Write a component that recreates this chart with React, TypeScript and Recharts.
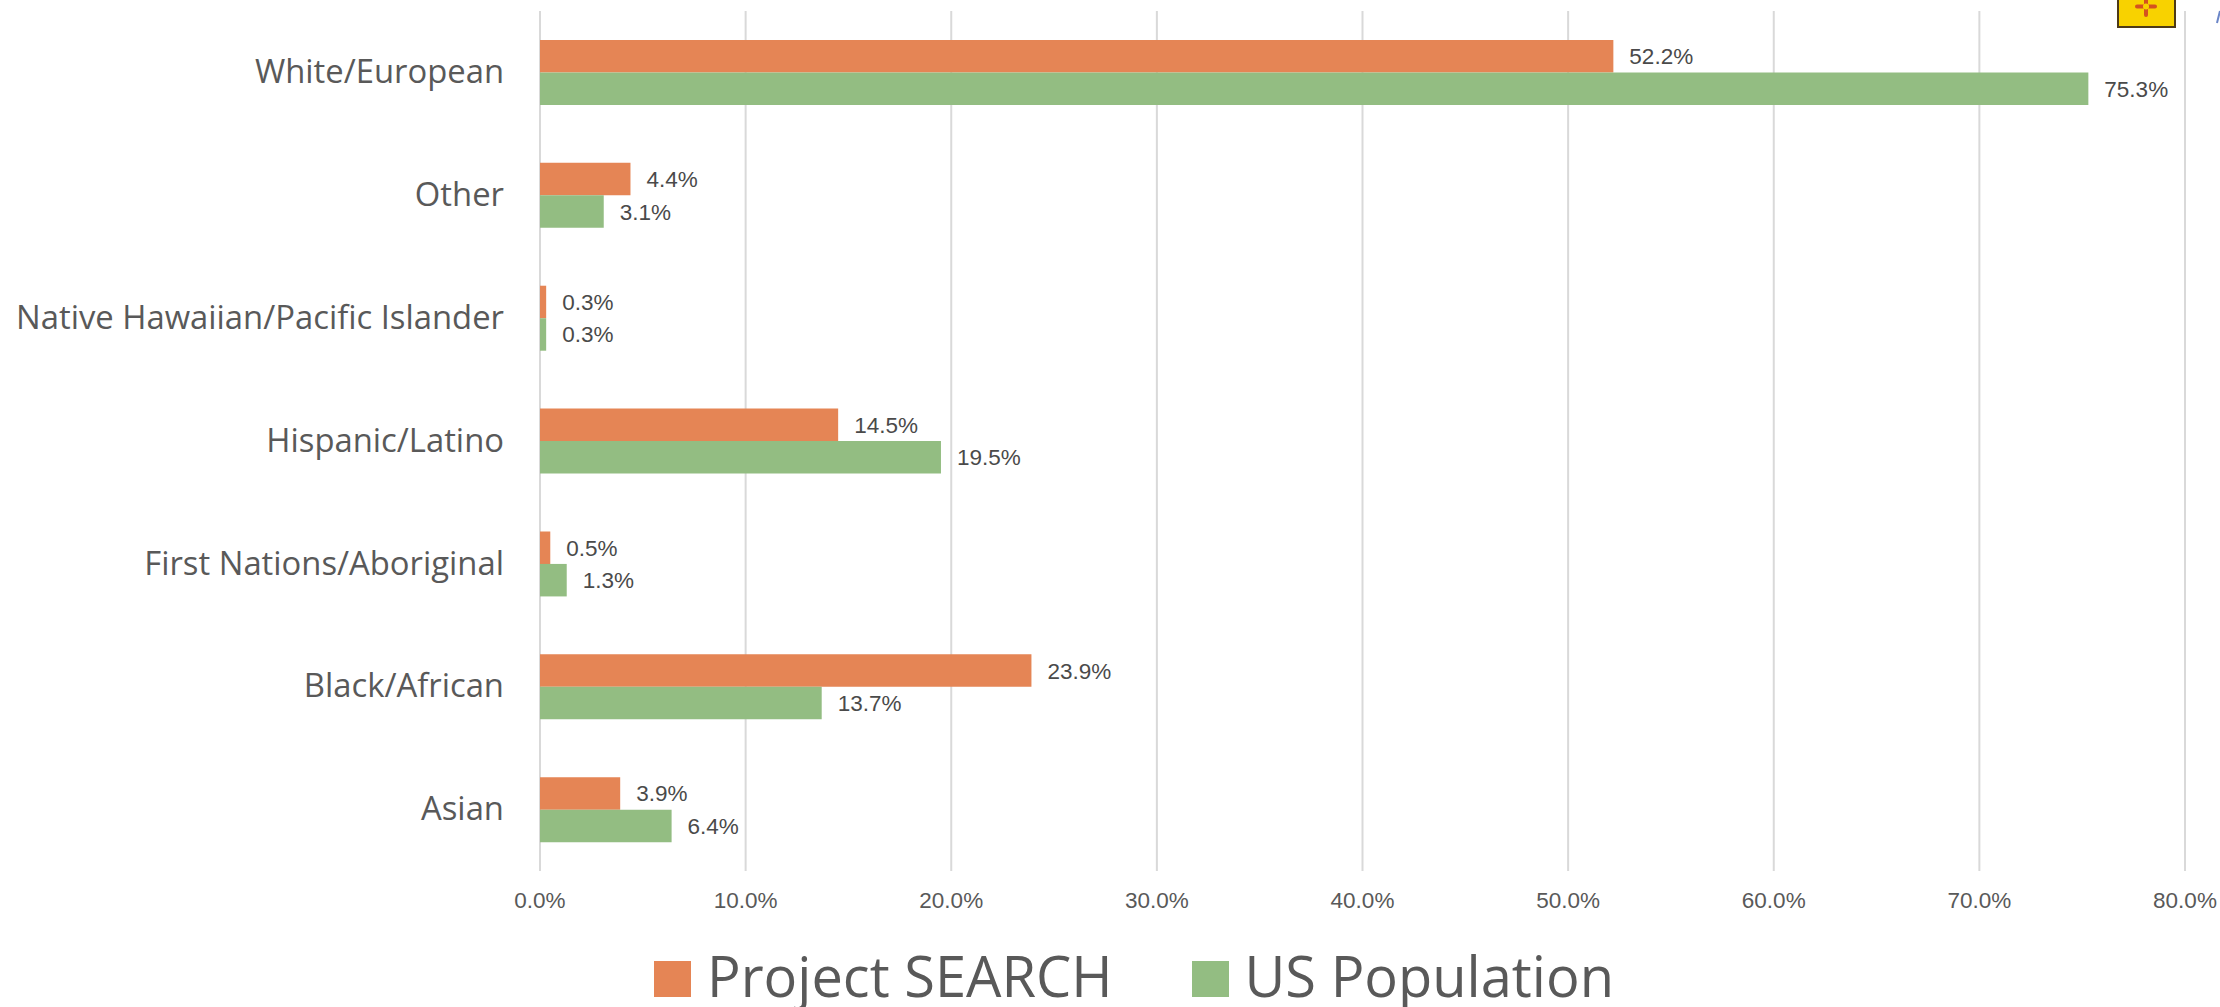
import { BarChart, Bar, XAxis, YAxis, CartesianGrid, LabelList, Legend } from "recharts";

const categories = [
  "White/European",
  "Other",
  "Native Hawaiian/Pacific Islander",
  "Hispanic/Latino",
  "First Nations/Aboriginal",
  "Black/African",
  "Asian",
];
const projectSearch = [52.2, 4.4, 0.3, 14.5, 0.5, 23.9, 3.9];
const usPopulation = [75.3, 3.1, 0.3, 19.5, 1.3, 13.7, 6.4];
const xTicks = [0, 10, 20, 30, 40, 50, 60, 70, 80];

const data = categories.map((name, i) => ({
  name,
  search: projectSearch[i],
  population: usPopulation[i],
}));

const FONT = '"Open Sans", sans-serif';
const pct = (v: any) => `${Number(v).toFixed(1)}%`;

function LegendRow({ payload }: any) {
  return (
    <div style={{ display: "flex", fontFamily: FONT, fontSize: 56, color: "#595959", lineHeight: "56px" }}>
      {(payload || []).map((p: any, i: number) => (
        <div key={p.value} style={{ display: "flex", alignItems: "center", marginRight: i === 0 ? 79 : 0 }}>
          <span style={{ width: 37, height: 36, background: p.color, marginRight: 16, display: "block", position: "relative", top: 4 }} />
          <span>{p.value}</span>
        </div>
      ))}
    </div>
  );
}

export default function App() {
  return (
    <div style={{ position: "absolute", left: 0, top: 0, width: 2220, height: 1007, background: "#fff", overflow: "hidden" }}>
      <BarChart
        width={2220}
        height={1007}
        data={data}
        layout="vertical"
        barSize={32.5}
        barGap={0}
        margin={{ top: 11, right: 35, bottom: 0, left: 0 }}
      >
        <CartesianGrid horizontal={false} stroke="#d9d9d9" strokeWidth={2} />
        <XAxis
          type="number"
          domain={[0, 80]}
          ticks={xTicks}
          tickFormatter={pct}
          axisLine={false}
          tickLine={false}
          tickSize={0}
          tickMargin={21}
          height={80}
          tick={{ fill: "#595959", fontSize: 22.5, fontFamily: "Liberation Sans" }}
          interval={0}
        />
        <YAxis
          type="category"
          dataKey="name"
          width={540}
          axisLine={false}
          tickLine={false}
          tickSize={0}
          tickMargin={36}
          interval={0}
          tick={{ fill: "#595959", fontSize: 32.8, fontFamily: FONT, dy: -1 }}
        />
        <Legend content={<LegendRow />} wrapperStyle={{ left: 654, bottom: 4, width: "auto" }} />
        <Bar dataKey="search" name="Project SEARCH" fill="#e58555" isAnimationActive={false}>
          <LabelList dataKey="search" position="right" offset={16} formatter={pct} fill="#4a4a4a" fontSize={22.5} fontFamily="Liberation Sans" />
        </Bar>
        <Bar dataKey="population" name="US Population" fill="#93bd82" isAnimationActive={false}>
          <LabelList dataKey="population" position="right" offset={16} formatter={pct} fill="#4a4a4a" fontSize={22.5} fontFamily="Liberation Sans" />
        </Bar>
      </BarChart>
      {/* stray bits of the page the chart was cropped from */}
      <svg width={2220} height={40} style={{ position: "absolute", left: 0, top: 0 }}>
        <rect x={2118} y={-4} width={57} height={31} fill="#f8d200" stroke="#4d3a17" strokeWidth={2} />
        <path d="M2137 6.5H2155M2146 -2V15" stroke="#d4521f" strokeWidth={4} strokeLinecap="round" />
        <circle cx={2146} cy={6.5} r={3} fill="#f8d200" />
        <path d="M2217 23L2220 11" stroke="#6b86c8" strokeWidth={2} />
      </svg>
    </div>
  );
}
